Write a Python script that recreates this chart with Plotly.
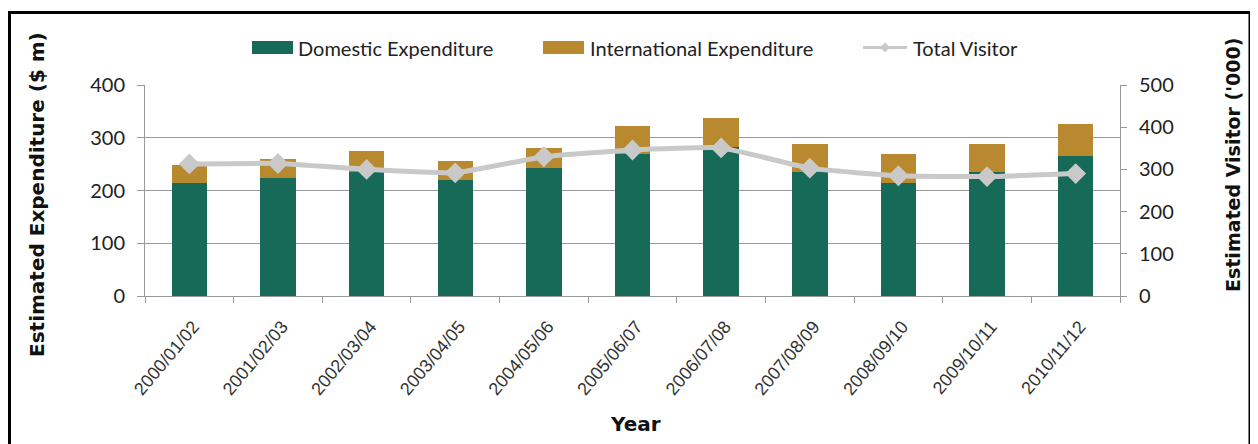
import plotly.graph_objects as go

years = ["2000/01/02", "2001/02/03", "2002/03/04", "2003/04/05", "2004/05/06",
         "2005/06/07", "2006/07/08", "2007/08/09", "2008/09/10", "2009/10/11", "2010/11/12"]
domestic = [214, 223, 236, 219, 243, 269, 283, 236, 214, 236, 265]
international = [34, 37, 39, 36, 38, 54, 55, 53, 55, 52, 61]
visitors = [313, 314, 300, 292, 330, 346, 351, 303, 285, 283, 290]

legend_names = ["Domestic Expenditure", "International Expenditure", "Total Visitor"]
colors = ["#176A58", "#B8892E", "#C9C9C9"]

OFF = 8  # page body margin
W, H = 1250, 436
# plot area in reference-image pixels
L, R, T, B = 145, 1120, 85, 296

def px_x(p):
    return (p - L) / (R - L)

def px_y(p):
    return (B - p) / (B - T)

FONT = "Lato, 'Open Sans', sans-serif"
TITLE_FONT = "'DejaVu Sans', sans-serif"

fig = go.Figure()
fig.add_trace(go.Bar(x=years, y=domestic, name=legend_names[0],
                     marker=dict(color=colors[0], line=dict(width=0))))
fig.add_trace(go.Bar(x=years, y=international, name=legend_names[1],
                     marker=dict(color=colors[1], line=dict(width=0))))
fig.add_trace(go.Scatter(x=years, y=visitors, name=legend_names[2], yaxis="y2",
                         mode="lines+markers",
                         line=dict(color=colors[2], width=5, shape="spline", smoothing=0.4),
                         marker=dict(symbol="diamond", size=16, color=colors[2])))

shapes = [
    dict(type="rect", xref="paper", yref="paper",
         x0=px_x(9.5), x1=px_x(1250), y0=px_y(470), y1=px_y(12.5),
         line=dict(color="black", width=3), fillcolor="rgba(0,0,0,0)", layer="below"),
    dict(type="rect", xref="paper", yref="paper",
         x0=px_x(252), x1=px_x(293), y0=px_y(54), y1=px_y(41),
         line=dict(width=0), fillcolor=colors[0]),
    dict(type="rect", xref="paper", yref="paper",
         x0=px_x(543), x1=px_x(584), y0=px_y(54), y1=px_y(41),
         line=dict(width=0), fillcolor=colors[1]),
    dict(type="line", xref="paper", yref="paper",
         x0=px_x(863), x1=px_x(907), y0=px_y(47.5), y1=px_y(47.5),
         line=dict(color=colors[2], width=3)),
    dict(type="path", xref="paper", yref="paper",
         path=("M {a},{c} L {b},{d} L {e},{c} L {b},{f} Z").format(
             a=px_x(880), b=px_x(885), e=px_x(890), c=px_y(47.5), d=px_y(42.5), f=px_y(52.5)),
         line=dict(width=0), fillcolor=colors[2]),
]

annotations = [
    dict(text=legend_names[0], xref="paper", yref="paper", x=px_x(296), y=px_y(48),
         xanchor="left", yanchor="middle", showarrow=False,
         font=dict(family=FONT, size=20, color="#222")),
    dict(text=legend_names[1], xref="paper", yref="paper", x=px_x(588), y=px_y(48),
         xanchor="left", yanchor="middle", showarrow=False,
         font=dict(family=FONT, size=20, color="#222")),
    dict(text=legend_names[2], xref="paper", yref="paper", x=px_x(911), y=px_y(48),
         xanchor="left", yanchor="middle", showarrow=False,
         font=dict(family=FONT, size=20, color="#222")),
    dict(text="<b>Estimated Expenditure ($ m)</b>", xref="paper", yref="paper",
         x=px_x(37), y=px_y(195), textangle=-90, showarrow=False,
         xanchor="center", yanchor="middle",
         font=dict(family=TITLE_FONT, size=20, color="#111")),
    dict(text="<b>Estimated Visitor ('000)</b>", xref="paper", yref="paper",
         x=px_x(1233), y=px_y(165), textangle=-90, showarrow=False,
         xanchor="center", yanchor="middle",
         font=dict(family=TITLE_FONT, size=19, color="#111")),
    dict(text="<b>Year</b>", xref="paper", yref="paper",
         x=px_x(635), y=px_y(424), showarrow=False,
         xanchor="center", yanchor="middle",
         font=dict(family=TITLE_FONT, size=20, color="#111")),
]

fig.update_layout(
    width=W, height=H,
    margin=dict(l=L - OFF, r=W - (R - OFF), t=T - OFF, b=H - (B - OFF), autoexpand=False),
    barmode="stack", bargap=0.6,
    plot_bgcolor="white", paper_bgcolor="white",
    font=dict(family=FONT, color="#222"),
    showlegend=False,
    xaxis=dict(type="category", range=[-0.5, len(years) - 0.5], autorange=False,
               tickangle=-50, tickson="boundaries", ticks="outside",
               ticklen=6, tickcolor="#999", showline=True, linecolor="#999", linewidth=1,
               ticklabelshift=4, ticklabelstandoff=12,
               tickfont=dict(family="'Liberation Sans', Arial, sans-serif", size=18, color="#333"),
               showgrid=False),
    yaxis=dict(range=[0, 400], dtick=100, showgrid=True, gridcolor="#9a9a9a", gridwidth=1,
               showline=True, linecolor="#999", ticks="outside", ticklen=7, tickcolor="#999",
               ticklabelstandoff=8,
               tickfont=dict(size=20, color="#222"), zeroline=False),
    yaxis2=dict(range=[0, 500], dtick=100, overlaying="y", side="right", showgrid=False,
                showline=True, linecolor="#999", ticks="outside", ticklen=6, tickcolor="#999",
                ticklabelstandoff=8,
                tickfont=dict(size=20, color="#222"), zeroline=False),
    annotations=annotations,
    shapes=shapes,
)

fig.write_html("out.html")
